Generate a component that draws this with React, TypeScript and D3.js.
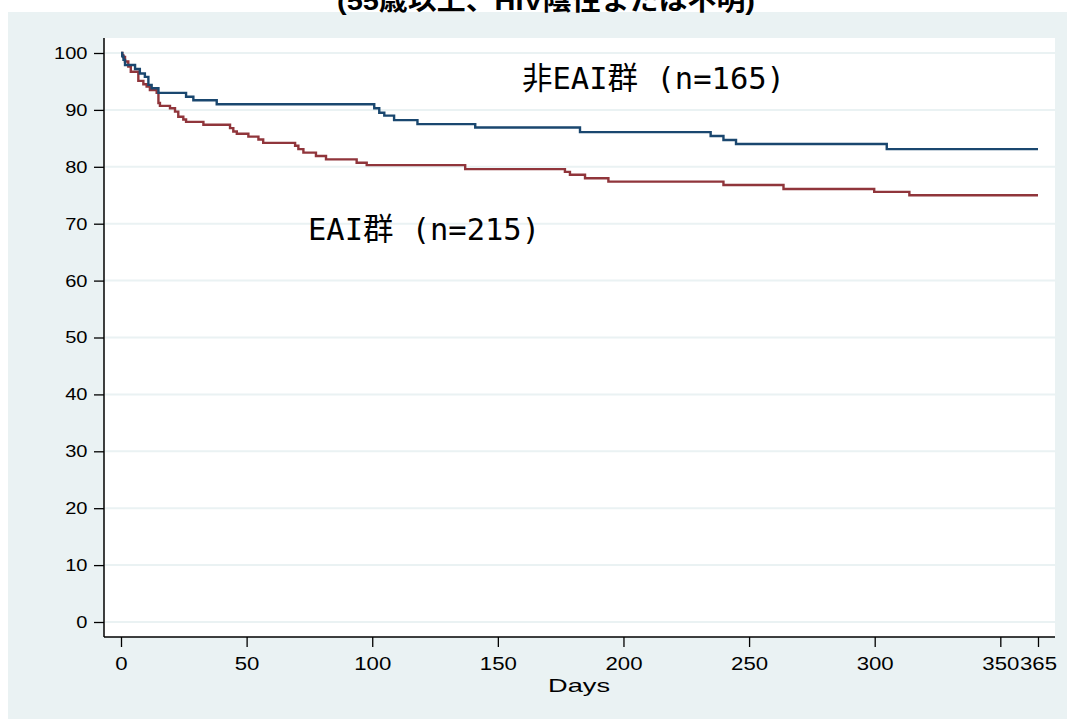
import React, { useRef, useEffect } from 'react';
import * as d3 from 'd3';

// axis ticks
const dayTicks = [0, 50, 100, 150, 200, 250, 300, 350, 365];
const survTicks = [0, 10, 20, 30, 40, 50, 60, 70, 80, 90, 100];

// 非EAI群 (blue) step curve
const nonEaiDays = [0, 0.5, 1, 1.6, 5.6, 7.5, 9.5, 10.9, 12.2, 14.9, 25.9, 28.8, 38.1, 100.8, 102.8, 104.8, 108.7, 118, 141, 182.7, 234.7, 239.8, 244.8, 304.8, 365];
const nonEaiSurv = [100, 99.4, 98.8, 97.9, 97.2, 96.4, 95.8, 94.4, 93.8, 93.0, 92.3, 91.7, 91.0, 90.3, 89.5, 89.0, 88.2, 87.5, 86.9, 86.1, 85.4, 84.7, 84.0, 83.1, 83.1];

// EAI群 (red) step curve
const eaiDays = [0, 0.5, 0.9, 1.6, 2.9, 3.9, 6.9, 8.9, 10.2, 11.5, 14.2, 14.9, 15.5, 19.5, 21.5, 22.8, 24.8, 25.9, 32.8, 43.4, 44.7, 46.1, 50.7, 54.7, 56.6, 69.3, 70.6, 72.6, 77.6, 81.6, 93.8, 97.8, 137, 176.7, 178.7, 184.7, 194, 239.8, 263.7, 299.8, 313.8, 365];
const eaiSurv = [100, 99.6, 99.3, 98.5, 97.6, 96.7, 95.1, 94.5, 94.1, 93.5, 93.0, 91.2, 90.7, 90.3, 89.7, 88.8, 88.3, 87.9, 87.4, 86.8, 86.2, 85.8, 85.3, 84.8, 84.2, 83.7, 83.1, 82.5, 81.9, 81.3, 80.7, 80.3, 79.6, 79.1, 78.6, 78.0, 77.4, 76.8, 76.1, 75.6, 75.0, 75.0];

const titleText = '(55歳以上、HIV陰性または不明)';
const nonEaiLabel = '非EAI群 (n=165)';
const eaiLabel = 'EAI群 (n=215)';
const xTitle = 'Days';

const W = 1067;
const H = 719;
const BG = '#eaf2f3';
const BLUE = '#1a476f';
const RED = '#90353b';
const SANS = "'Liberation Sans', Arial, 'Noto Sans CJK JP', sans-serif";
const MONO = "'DejaVu Sans Mono', 'Noto Sans CJK JP', monospace";

function App() {
  const svgRef = useRef<SVGSVGElement>(null);

  useEffect(() => {
    drawChart();
  }, []);

  const drawChart = () => {
    const plot = { left: 104, right: 1055, top: 38, bottom: 637 };

    const svg = d3.select(svgRef.current);
    svg.selectAll('*').remove();

    const x = d3.scaleLinear().domain([0, 365]).range([121, 1038]);
    const y = d3.scaleLinear().domain([0, 100]).range([622, 53]);

    svg.append('rect').attr('width', W).attr('height', H).attr('fill', '#fff');
    svg.append('rect')
      .attr('x', 8).attr('y', 12)
      .attr('width', W - 8).attr('height', H - 12)
      .attr('fill', BG);

    // title, mostly cut off at the top (as in the source image)
    svg.append('text')
      .attr('x', 337).attr('y', 9.5)
      .attr('font-family', SANS)
      .attr('font-weight', 'bold')
      .attr('font-size', 26)
      .attr('textLength', 418)
      .attr('lengthAdjust', 'spacingAndGlyphs')
      .attr('fill', '#000')
      .text(titleText);

    svg.append('rect')
      .attr('x', plot.left).attr('y', plot.top)
      .attr('width', plot.right - plot.left)
      .attr('height', plot.bottom - plot.top)
      .attr('fill', '#fff');

    // gridlines
    svg.append('g')
      .selectAll('line')
      .data(survTicks)
      .enter().append('line')
      .attr('x1', plot.left + 1)
      .attr('x2', plot.right)
      .attr('y1', d => y(d))
      .attr('y2', d => y(d))
      .attr('stroke', BG)
      .attr('stroke-width', 2);

    const line = d3.line<[number, number]>()
      .x(d => x(d[0]))
      .y(d => y(d[1]))
      .curve(d3.curveStepAfter);

    const eaiData = eaiDays.map((d, i) => [d, eaiSurv[i]] as [number, number]);
    const nonEaiData = nonEaiDays.map((d, i) => [d, nonEaiSurv[i]] as [number, number]);

    svg.append('path')
      .datum(eaiData)
      .attr('fill', 'none')
      .attr('stroke', RED)
      .attr('stroke-width', 2.4)
      .attr('d', line);

    svg.append('path')
      .datum(nonEaiData)
      .attr('fill', 'none')
      .attr('stroke', BLUE)
      .attr('stroke-width', 2.4)
      .attr('d', line);

    // group labels
    svg.append('text')
      .attr('x', 522).attr('y', 89)
      .attr('font-family', MONO)
      .attr('font-size', 31)
      .attr('textLength', 263)
      .attr('lengthAdjust', 'spacingAndGlyphs')
      .attr('fill', '#000')
      .text(nonEaiLabel);

    svg.append('text')
      .attr('x', 308).attr('y', 240)
      .attr('font-family', MONO)
      .attr('font-size', 31)
      .attr('textLength', 232)
      .attr('lengthAdjust', 'spacingAndGlyphs')
      .attr('fill', '#000')
      .text(eaiLabel);

    // axes
    const yAxis = svg.append('g')
      .attr('transform', `translate(${plot.left},0)`)
      .call(d3.axisLeft(y).tickValues(survTicks).tickSize(10).tickPadding(4).tickSizeOuter(0));

    const xAxis = svg.append('g')
      .attr('transform', `translate(0,${plot.bottom})`)
      .call(d3.axisBottom(x).tickValues(dayTicks).tickFormat(d3.format('d')).tickSize(10).tickPadding(10).tickSizeOuter(0));

    [yAxis, xAxis].forEach(g => {
      g.select('.domain').remove();
      g.selectAll('line').attr('stroke', '#000').attr('stroke-width', 1.3);
      g.selectAll('text')
        .attr('font-family', SANS)
        .attr('fill', '#000');
    });
    yAxis.selectAll('text').attr('font-size', 17).attr('transform', 'scale(1.18,1)');
    xAxis.selectAll('text').attr('font-size', 18.5).attr('transform', 'scale(1.2,1)');

    svg.append('line')
      .attr('x1', plot.left).attr('x2', plot.left)
      .attr('y1', plot.top).attr('y2', plot.bottom)
      .attr('stroke', '#000').attr('stroke-width', 1.5);
    svg.append('line')
      .attr('x1', plot.left).attr('x2', plot.right)
      .attr('y1', plot.bottom).attr('y2', plot.bottom)
      .attr('stroke', '#000').attr('stroke-width', 1.5);

    svg.append('text')
      .attr('x', 548).attr('y', 692)
      .attr('font-family', SANS)
      .attr('font-size', 19)
      .attr('textLength', 62)
      .attr('lengthAdjust', 'spacingAndGlyphs')
      .attr('fill', '#000')
      .text(xTitle);
  };

  return (
    <svg ref={svgRef} width={W} height={H} style={{ position: 'absolute', left: 0, top: 0 }}></svg>
  );
}

export default App;
